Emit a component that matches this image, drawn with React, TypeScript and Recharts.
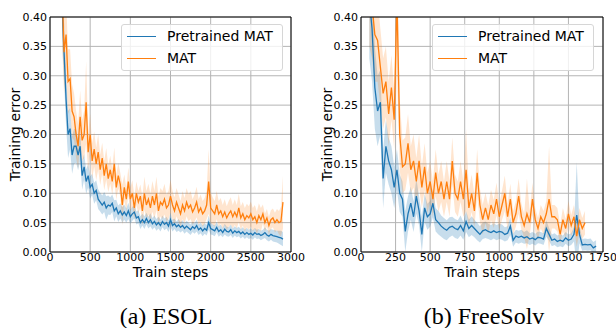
import React from 'react';
import {
  ComposedChart,
  Line,
  Area,
  XAxis,
  YAxis,
  CartesianGrid,
  Legend,
  ReferenceLine,
  Label,
} from 'recharts';

const BLUE = '#1f77b4';
const ORANGE = '#ff7f0e';
const FONT = '"DejaVu Sans", sans-serif';

// ESOL run (left panel)
const esolSteps = [
  150, 175, 200, 225, 250, 275, 300, 325, 350, 375,
  400, 425, 450, 475, 500, 525, 550, 575, 600, 625,
  650, 675, 700, 725, 750, 775, 800, 825, 850, 875,
  900, 925, 950, 975, 1000, 1025, 1050, 1075, 1100, 1125,
  1150, 1175, 1200, 1225, 1250, 1275, 1300, 1325, 1350, 1375,
  1400, 1425, 1450, 1475, 1500, 1525, 1550, 1575, 1600, 1625,
  1650, 1675, 1700, 1725, 1750, 1775, 1800, 1825, 1850, 1875,
  1900, 1925, 1950, 1975, 2000, 2025, 2050, 2075, 2100, 2125,
  2150, 2175, 2200, 2225, 2250, 2275, 2300, 2325, 2350, 2375,
  2400, 2425, 2450, 2475, 2500, 2525, 2550, 2575, 2600, 2625,
  2650, 2675, 2700, 2725, 2750, 2775, 2800, 2825, 2850, 2875,
  2900,
];
const esolPretrained = [
  0.42, 0.34, 0.26, 0.2, 0.21, 0.165, 0.18, 0.18, 0.165, 0.18,
  0.13, 0.145, 0.12, 0.13, 0.11, 0.115, 0.1, 0.105, 0.09, 0.085,
  0.08, 0.085, 0.075, 0.08, 0.078, 0.083, 0.07, 0.075, 0.065, 0.07,
  0.063, 0.068, 0.062, 0.07, 0.06, 0.065, 0.068, 0.058, 0.06, 0.05,
  0.055, 0.05, 0.057, 0.05, 0.055, 0.048, 0.052, 0.046, 0.05, 0.045,
  0.052, 0.047, 0.05, 0.044, 0.055, 0.045, 0.048, 0.043, 0.046, 0.042,
  0.045, 0.04, 0.044, 0.041, 0.038, 0.043, 0.04, 0.045, 0.038, 0.041,
  0.036, 0.04, 0.037, 0.05, 0.04, 0.038, 0.036, 0.042, 0.035, 0.038,
  0.033, 0.039, 0.035, 0.034, 0.038, 0.032, 0.036, 0.033, 0.035, 0.031,
  0.034, 0.03, 0.033, 0.03, 0.032, 0.029, 0.033, 0.03, 0.031, 0.028,
  0.03, 0.033, 0.029, 0.027, 0.03, 0.028, 0.027, 0.026, 0.025, 0.024,
  0.022,
];
const esolMat = [
  0.45, 0.34, 0.37, 0.29, 0.295, 0.24, 0.23, 0.2, 0.18, 0.23,
  0.19, 0.2, 0.255, 0.17, 0.2, 0.155, 0.175, 0.15, 0.17, 0.14,
  0.16, 0.13, 0.15, 0.125, 0.14, 0.12, 0.15, 0.11, 0.13, 0.115,
  0.08, 0.11, 0.09, 0.12, 0.09, 0.1, 0.075, 0.1, 0.085, 0.095,
  0.07, 0.1, 0.08, 0.09, 0.075, 0.095, 0.08, 0.1, 0.07, 0.085,
  0.08, 0.09, 0.075, 0.08, 0.095, 0.08, 0.07, 0.085, 0.075, 0.065,
  0.08, 0.07, 0.085, 0.075, 0.08, 0.068, 0.075, 0.085, 0.068, 0.075,
  0.065, 0.07, 0.08, 0.12, 0.075, 0.07, 0.065, 0.08, 0.065, 0.07,
  0.06, 0.068, 0.058, 0.065, 0.07, 0.06, 0.068, 0.06, 0.075, 0.058,
  0.065, 0.055, 0.062, 0.058, 0.065, 0.055, 0.06, 0.05, 0.062, 0.055,
  0.065, 0.05, 0.058, 0.045, 0.055, 0.058, 0.05, 0.055, 0.05, 0.052,
  0.085,
];
const esolPretrainedStd = [
  0.06, 0.05, 0.045, 0.04, 0.035, 0.032, 0.03, 0.028, 0.026, 0.025,
  0.024, 0.022, 0.021, 0.02, 0.019, 0.018, 0.018, 0.017, 0.017, 0.016,
  0.016, 0.017, 0.02, 0.016, 0.015, 0.015, 0.018, 0.014, 0.014, 0.013,
  0.013, 0.013, 0.012, 0.014, 0.012, 0.012, 0.011, 0.011, 0.011, 0.011,
  0.01, 0.011, 0.01, 0.01, 0.011, 0.01, 0.01, 0.01, 0.01, 0.01,
  0.01, 0.01, 0.01, 0.01, 0.012, 0.01, 0.009, 0.009, 0.01, 0.009,
  0.009, 0.009, 0.009, 0.009, 0.009, 0.009, 0.009, 0.01, 0.009, 0.009,
  0.009, 0.009, 0.009, 0.012, 0.01, 0.009, 0.009, 0.009, 0.009, 0.009,
  0.008, 0.009, 0.008, 0.008, 0.009, 0.008, 0.008, 0.008, 0.008, 0.008,
  0.008, 0.008, 0.008, 0.008, 0.008, 0.008, 0.008, 0.008, 0.008, 0.008,
  0.008, 0.009, 0.009, 0.009, 0.009, 0.01, 0.01, 0.01, 0.011, 0.012,
  0.012,
];
const esolMatStd = [
  0.09, 0.07, 0.06, 0.055, 0.05, 0.045, 0.04, 0.04, 0.038, 0.045,
  0.035, 0.04, 0.07, 0.032, 0.035, 0.03, 0.03, 0.028, 0.03, 0.026,
  0.026, 0.025, 0.027, 0.023, 0.024, 0.022, 0.028, 0.021, 0.022, 0.02,
  0.035, 0.022, 0.02, 0.024, 0.02, 0.022, 0.02, 0.02, 0.019, 0.02,
  0.024, 0.028, 0.024, 0.026, 0.024, 0.026, 0.024, 0.028, 0.024, 0.024,
  0.024, 0.026, 0.023, 0.024, 0.028, 0.024, 0.023, 0.024, 0.023, 0.022,
  0.024, 0.022, 0.024, 0.023, 0.024, 0.022, 0.023, 0.026, 0.022, 0.023,
  0.022, 0.022, 0.024, 0.055, 0.026, 0.023, 0.022, 0.024, 0.022, 0.022,
  0.02, 0.022, 0.02, 0.022, 0.023, 0.02, 0.022, 0.02, 0.024, 0.02,
  0.02, 0.02, 0.02, 0.02, 0.021, 0.02, 0.02, 0.019, 0.021, 0.02,
  0.016, 0.015, 0.015, 0.015, 0.016, 0.016, 0.017, 0.018, 0.02, 0.025,
  0.045,
];

// FreeSolv run (right panel)
const freesolvSteps = [
  60, 80, 100, 120, 140, 160, 180, 200, 220, 240,
  260, 280, 300, 320, 340, 360, 380, 400, 420, 440,
  460, 480, 500, 520, 540, 560, 580, 600, 620, 640,
  660, 680, 700, 720, 740, 760, 780, 800, 820, 840,
  860, 880, 900, 920, 940, 960, 980, 1000, 1020, 1040,
  1060, 1080, 1100, 1120, 1140, 1160, 1180, 1200, 1220, 1240,
  1260, 1280, 1300, 1320, 1340, 1360, 1380, 1400, 1420, 1440,
  1460, 1480, 1500, 1520, 1540, 1560, 1580, 1600, 1620, 1640,
  1660, 1680, 1700,
];
const freesolvPretrained = [
  0.43, 0.38, 0.28, 0.24, 0.255, 0.125, 0.18, 0.155, 0.14, 0.11,
  0.14, 0.1, 0.09, 0.035, 0.065, 0.083, 0.06, 0.095, 0.07, 0.03,
  0.075, 0.06, 0.065, 0.083, 0.055, 0.05, 0.044, 0.04, 0.037, 0.042,
  0.044, 0.04, 0.038, 0.045, 0.036, 0.052, 0.04, 0.045, 0.04, 0.035,
  0.03, 0.036, 0.038, 0.035, 0.033, 0.036, 0.033, 0.035, 0.034, 0.03,
  0.032, 0.044, 0.02, 0.027, 0.025, 0.027, 0.024, 0.026, 0.022, 0.024,
  0.021, 0.025, 0.024, 0.022, 0.04, 0.03, 0.02, 0.022, 0.018, 0.02,
  0.018, 0.024, 0.02, 0.022, 0.03, 0.063, 0.03, 0.012, 0.013, 0.012,
  0.013, 0.007, 0.01,
];
const freesolvMat = [
  0.45, 0.42, 0.37, 0.36, 0.315, 0.27, 0.29, 0.235, 0.28, 0.225,
  0.43, 0.2, 0.145, 0.15, 0.185, 0.14, 0.155, 0.12, 0.155, 0.11,
  0.145, 0.1, 0.12, 0.09, 0.135, 0.1, 0.12, 0.09, 0.12, 0.09,
  0.155, 0.1, 0.09, 0.12, 0.09, 0.14, 0.075, 0.1, 0.07, 0.135,
  0.08, 0.055, 0.075, 0.055, 0.08, 0.065, 0.09, 0.06, 0.08, 0.1,
  0.06, 0.09, 0.05, 0.065, 0.095, 0.06, 0.045, 0.065, 0.05, 0.09,
  0.055, 0.04, 0.06, 0.05, 0.065, 0.09, 0.06, 0.06, 0.055, 0.03,
  0.055, 0.04, 0.065, 0.045, 0.06, 0.027, 0.055, 0.04, 0.05, null,
  null, null, null,
];
const freesolvPretrainedStd = [
  0.1, 0.09, 0.07, 0.06, 0.055, 0.05, 0.045, 0.04, 0.04, 0.035,
  0.035, 0.032, 0.03, 0.035, 0.03, 0.028, 0.026, 0.03, 0.025, 0.03,
  0.024, 0.022, 0.022, 0.024, 0.02, 0.02, 0.018, 0.018, 0.017, 0.017,
  0.016, 0.016, 0.016, 0.017, 0.015, 0.018, 0.015, 0.016, 0.015, 0.015,
  0.014, 0.014, 0.014, 0.013, 0.013, 0.013, 0.013, 0.013, 0.013, 0.012,
  0.012, 0.015, 0.011, 0.011, 0.011, 0.011, 0.01, 0.011, 0.01, 0.01,
  0.01, 0.01, 0.01, 0.01, 0.014, 0.011, 0.01, 0.01, 0.01, 0.01,
  0.01, 0.01, 0.01, 0.01, 0.012, 0.09, 0.015, 0.01, 0.01, 0.01,
  0.01, 0.01, 0.01,
];
const freesolvMatStd = [
  0.1, 0.09, 0.08, 0.07, 0.065, 0.06, 0.06, 0.055, 0.055, 0.05,
  0.12, 0.06, 0.045, 0.045, 0.05, 0.04, 0.045, 0.04, 0.045, 0.035,
  0.04, 0.035, 0.035, 0.03, 0.04, 0.032, 0.035, 0.03, 0.035, 0.03,
  0.04, 0.032, 0.03, 0.035, 0.03, 0.07, 0.03, 0.032, 0.028, 0.04,
  0.028, 0.025, 0.026, 0.024, 0.026, 0.024, 0.028, 0.022, 0.025, 0.03,
  0.022, 0.026, 0.02, 0.022, 0.03, 0.022, 0.02, 0.06, 0.02, 0.028,
  0.02, 0.018, 0.02, 0.02, 0.022, 0.09, 0.02, 0.02, 0.02, 0.016,
  0.02, 0.016, 0.022, 0.018, 0.02, 0.018, 0.02, 0.018, 0.02, null,
  null, null, null,
];

const yTicks = [0, 0.05, 0.1, 0.15, 0.2, 0.25, 0.3, 0.35, 0.4];
const esolXTicks = [0, 500, 1000, 1500, 2000, 2500, 3000];
const freesolvXTicks = [0, 250, 500, 750, 1000, 1250, 1500, 1750];
const seriesNames = ['Pretrained MAT', 'MAT'];

type Row = {
  step: number;
  pre: number | null;
  mat: number | null;
  preBand: [number, number] | null;
  matBand: [number, number] | null;
};

function band(mean: number | null, std: number | null): [number, number] | null {
  if (mean == null || std == null) return null;
  return [mean - std, mean + std];
}

function buildRows(
  steps: number[],
  pre: (number | null)[],
  mat: (number | null)[],
  preStd: (number | null)[],
  matStd: (number | null)[]
): Row[] {
  return steps.map((step, i) => ({
    step,
    pre: pre[i],
    mat: mat[i],
    preBand: band(pre[i], preStd[i]),
    matBand: band(mat[i], matStd[i]),
  }));
}

const esolRows = buildRows(esolSteps, esolPretrained, esolMat, esolPretrainedStd, esolMatStd);
const freesolvRows = buildRows(
  freesolvSteps,
  freesolvPretrained,
  freesolvMat,
  freesolvPretrainedStd,
  freesolvMatStd
);

const renderLegend = () => (
  <div
    style={{
      boxSizing: 'border-box',
      width: 162,
      height: 47,
      background: 'rgba(255,255,255,0.8)',
      border: '1px solid #d6d6d6',
      borderRadius: 3,
      position: 'relative',
      fontFamily: FONT,
      fontSize: 14,
      color: '#000',
    }}
  >
    {seriesNames.map((name, i) => (
      <div key={name} style={{ position: 'absolute', left: 0, top: i === 0 ? 3 : 25, height: 18 }}>
        <span
          style={{
            position: 'absolute',
            left: 5,
            top: 8,
            width: 29,
            height: 0,
            borderTop: `1.3px solid ${i === 0 ? BLUE : ORANGE}`,
          }}
        />
        <span style={{ position: 'absolute', left: 45, top: 0, whiteSpace: 'nowrap', lineHeight: '17px' }}>
          {name}
        </span>
      </div>
    ))}
  </div>
);

interface PanelProps {
  rows: Row[];
  xTicks: number[];
  xMax: number;
  left: number;
  width: number;
  rightMargin: number;
  yAxisWidth: number;
  yTitleX: number;
  legendLeft: number;
}

function Panel({ rows, xTicks, xMax, left, width, rightMargin, yAxisWidth, yTitleX, legendLeft }: PanelProps) {
  const plotLeft = yAxisWidth;
  const plotRight = width - rightMargin;
  const midX = (plotLeft + plotRight) / 2;

  return (
    <div style={{ position: 'absolute', left, top: 0 }}>
      <ComposedChart
        width={width}
        height={290}
        data={rows}
        margin={{ top: 17, right: rightMargin, bottom: 0, left: 0 }}
      >
        <CartesianGrid stroke="#b4b4b4" strokeWidth={1} />
        <XAxis
          dataKey="step"
          type="number"
          domain={[0, xMax]}
          ticks={xTicks}
          interval={0}
          height={38}
          tickSize={0}
          tickMargin={1}
          tickLine={false}
          axisLine={{ stroke: '#000', strokeWidth: 1 }}
          tick={{ fontSize: 11, fontFamily: FONT, fill: '#000' }}
        >
          <Label
            content={() => (
              <text x={midX} y={277} textAnchor="middle" fontSize={14} fontFamily={FONT} fill="#000">
                Train steps
              </text>
            )}
          />
        </XAxis>
        <YAxis
          type="number"
          domain={[0, 0.4]}
          allowDataOverflow
          ticks={yTicks}
          interval={0}
          width={yAxisWidth}
          tickSize={0}
          tickMargin={3}
          tickLine={false}
          axisLine={{ stroke: '#000', strokeWidth: 1 }}
          tickFormatter={(v: number) => v.toFixed(2)}
          tick={{ fontSize: 11, fontFamily: FONT, fill: '#000' }}
        >
          <Label
            content={() => (
              <text
                x={yTitleX}
                y={134.5}
                transform={`rotate(-90 ${yTitleX} 134.5)`}
                textAnchor="middle"
                dominantBaseline="central"
                fontSize={14}
                fontFamily={FONT}
                fill="#000"
              >
                Training error
              </text>
            )}
          />
        </YAxis>
        <Area
          dataKey="preBand"
          stroke="none"
          fill={BLUE}
          fillOpacity={0.25}
          isAnimationActive={false}
          legendType="none"
          activeDot={false}
        />
        <Area
          dataKey="matBand"
          stroke="none"
          fill={ORANGE}
          fillOpacity={0.2}
          isAnimationActive={false}
          legendType="none"
          activeDot={false}
        />
        <Line
          dataKey="pre"
          name={seriesNames[0]}
          stroke={BLUE}
          strokeWidth={1.3}
          dot={false}
          activeDot={false}
          isAnimationActive={false}
        />
        <Line
          dataKey="mat"
          name={seriesNames[1]}
          stroke={ORANGE}
          strokeWidth={1.3}
          dot={false}
          activeDot={false}
          isAnimationActive={false}
        />
        <ReferenceLine y={0.4} stroke="#000" strokeWidth={1} />
        <ReferenceLine x={xMax} stroke="#000" strokeWidth={1} />
        <Legend
          layout="horizontal"
          verticalAlign="middle"
          align="center"
          content={renderLegend}
          wrapperStyle={{ left: legendLeft, top: 24, width: 162, height: 47 }}
        />
      </ComposedChart>
    </div>
  );
}

export default function App() {
  return (
    <div
      style={{
        position: 'absolute',
        left: 0,
        top: 0,
        width: 616,
        height: 328,
        background: '#fff',
        overflow: 'hidden',
      }}
    >
      <Panel
        rows={esolRows}
        xTicks={esolXTicks}
        xMax={3000}
        left={0}
        width={320}
        rightMargin={29}
        yAxisWidth={50}
        yTitleX={15}
        legendLeft={121}
      />
      <Panel
        rows={freesolvRows}
        xTicks={freesolvXTicks}
        xMax={1750}
        left={300}
        width={316}
        rightMargin={13}
        yAxisWidth={61}
        yTitleX={27}
        legendLeft={132}
      />
      <svg
        width={616}
        height={328}
        style={{ position: 'absolute', left: 0, top: 0, pointerEvents: 'none' }}
      >
        <text x={166} y={324} textAnchor="middle" fontSize={24} fontFamily='"Liberation Serif", serif' fill="#000">
          (a) ESOL
        </text>
        <text x={484} y={324} textAnchor="middle" fontSize={24} fontFamily='"Liberation Serif", serif' fill="#000">
          (b) FreeSolv
        </text>
      </svg>
    </div>
  );
}
